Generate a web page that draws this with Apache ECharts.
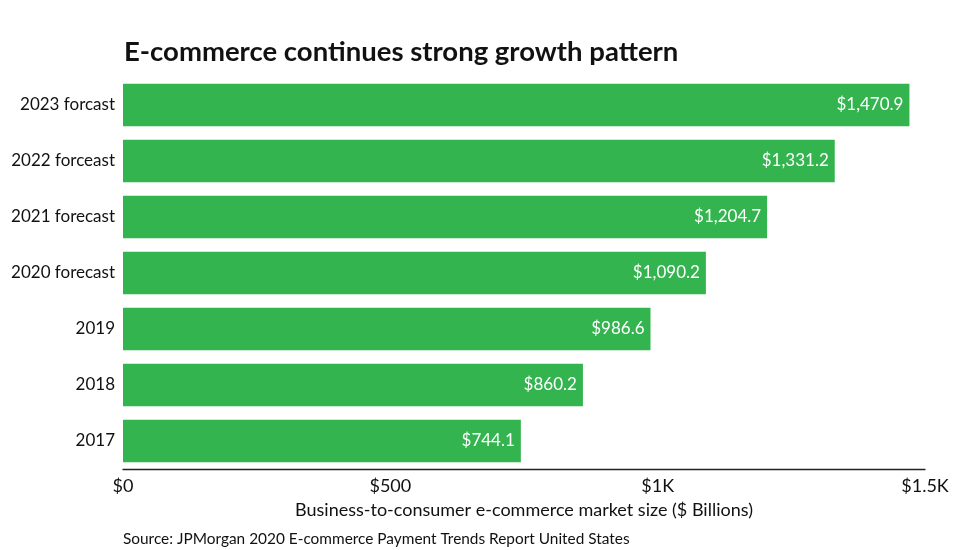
<!DOCTYPE html>
<html>
<head>
<meta charset="utf-8">
<script src="https://cdn.jsdelivr.net/npm/echarts@6/dist/echarts.min.js"></script>
<style>
  html, body { margin: 0; padding: 0; background: #fff; }
  #chart { width: 978px; height: 550px; }
</style>
</head>
<body>
<div id="chart"></div>
<script>
// categories bottom to top
const years = ['2017', '2018', '2019', '2020 forecast', '2021 forecast', '2022 forceast', '2023 forcast'];
const marketSize = [744.1, 860.2, 986.6, 1090.2, 1204.7, 1331.2, 1470.9];
const tickLabels = { 0: '$0', 500: '$500', 1000: '$1K', 1500: '$1.5K' };

const chart = echarts.init(document.getElementById('chart'));

function money(v) {
  return '$' + v.toLocaleString('en-US', { minimumFractionDigits: 1, maximumFractionDigits: 1 });
}

var option = {
  textStyle: { fontFamily: 'Lato' },
  title: {
    text: 'E-commerce continues strong growth pattern',
    left: 119,
    top: 33,
    textStyle: { fontFamily: 'Lato', fontSize: 27.5, fontWeight: 'bold', color: '#111' }
  },
  graphic: [{
    type: 'text',
    left: 123,
    top: 532,
    style: {
      text: 'Source: JPMorgan 2020 E-commerce Payment Trends Report United States',
      font: '15.4px Lato',
      fill: '#111'
    }
  }],
  grid: { left: 123, right: 53, top: 77, height: 392 },
  xAxis: {
    type: 'value',
    min: 0,
    max: 1500,
    interval: 500,
    name: 'Business-to-consumer e-commerce market size ($ Billions)',
    nameLocation: 'middle',
    nameGap: 32,
    nameTextStyle: { fontFamily: 'Lato', fontSize: 18, color: '#111' },
    axisLine: { show: true, lineStyle: { color: '#222', width: 1.3 } },
    axisTick: { show: false },
    splitLine: { show: false },
    axisLabel: {
      fontFamily: 'Lato', fontSize: 18, color: '#111', margin: 8,
      formatter: function (v) { return tickLabels[v]; }
    }
  },
  yAxis: {
    type: 'category',
    data: years,
    axisLine: { show: false },
    axisTick: { show: false },
    axisLabel: { fontFamily: 'Lato', fontSize: 17, color: '#111', margin: 8 }
  },
  series: [{
    type: 'bar',
    data: marketSize,
    barCategoryGap: '24%',
    itemStyle: { color: '#33b44f' },
    label: {
      show: true,
      position: 'insideRight',
      distance: 6,
      color: '#fff',
      fontFamily: 'Lato',
      fontSize: 17,
      formatter: function (p) { return money(p.value); }
    }
  }]
};

chart.setOption(option);
</script>
</body>
</html>
